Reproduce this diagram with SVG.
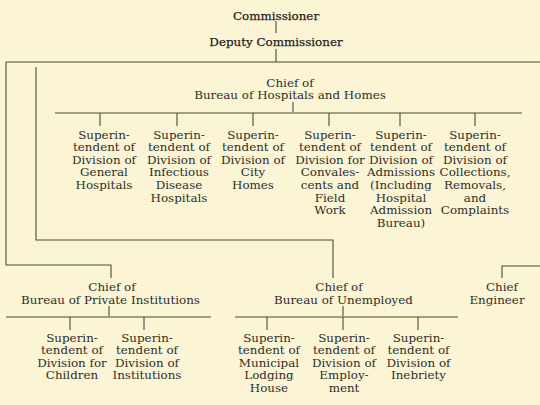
<svg xmlns="http://www.w3.org/2000/svg" width="540" height="405" viewBox="0 0 540 405">
<style>
text{font-family:"DejaVu Serif","Liberation Serif",serif;font-size:11.9px;fill:#2f2d29;text-anchor:middle}
.c line{stroke:#4a4840;stroke-width:1.1;fill:none}
.c polyline{stroke:#4a4840;stroke-width:1.1;fill:none}
.b{fill:#1f1d1a;stroke:#1f1d1a;stroke-width:0.25}
</style>
<rect width="540" height="405" fill="#fbf5d5"/>
<g class="c" id="connectors">
<line x1="276" y1="21" x2="276" y2="33"/>
<line x1="276" y1="49" x2="276" y2="62"/>
<line x1="6" y1="62" x2="540" y2="62"/>
<polyline points="6,62 6,265 111,265 111,278"/>
<polyline points="36,67 36,240 333,240 333,278"/>
<line x1="293" y1="102" x2="293" y2="112"/>
<line x1="55" y1="113" x2="522" y2="113"/>
<line x1="100" y1="113" x2="100" y2="126"/>
<line x1="177" y1="113" x2="177" y2="126"/>
<line x1="253" y1="113" x2="253" y2="126"/>
<line x1="329" y1="113" x2="329" y2="126"/>
<line x1="400" y1="113" x2="400" y2="126"/>
<line x1="475" y1="113" x2="475" y2="126"/>
<line x1="109" y1="306" x2="109" y2="316"/>
<line x1="6" y1="317" x2="211" y2="317"/>
<line x1="70" y1="317" x2="70" y2="330"/>
<line x1="144" y1="317" x2="144" y2="330"/>
<line x1="343" y1="306" x2="343" y2="316"/>
<line x1="235" y1="317" x2="458" y2="317"/>
<line x1="267" y1="317" x2="267" y2="330"/>
<line x1="343" y1="317" x2="343" y2="330"/>
<line x1="418" y1="317" x2="418" y2="330"/>
<polyline points="540,266 502,266 502,278"/>
</g>
<g id="commissioner"><text class="b" x="276" y="19.5">Commissioner</text></g>
<g id="deputy"><text class="b" x="276" y="46">Deputy Commissioner</text></g>
<g id="chief-hospitals"><text x="290" y="86.5">Chief of</text><text x="290" y="99">Bureau of Hospitals and Homes</text></g>
<g id="div-general"><text x="104" y="138.5">Superin-</text><text x="104" y="151">tendent of</text><text x="104" y="163.7">Division of</text><text x="104" y="176.4">General</text><text x="104" y="189">Hospitals</text></g>
<g id="div-infectious"><text x="179" y="138.5">Superin-</text><text x="179" y="151">tendent of</text><text x="179" y="163.7">Division of</text><text x="179" y="176.4">Infectious</text><text x="179" y="189">Disease</text><text x="179" y="201.7">Hospitals</text></g>
<g id="div-city"><text x="253" y="138.5">Superin-</text><text x="253" y="151">tendent of</text><text x="253" y="163.7">Division of</text><text x="253" y="176.4">City</text><text x="253" y="189">Homes</text></g>
<g id="div-convalescents"><text x="330" y="138.5">Superin-</text><text x="330" y="151">tendent of</text><text x="330" y="163.7">Division for</text><text x="330" y="176.4">Convales-</text><text x="330" y="189">cents and</text><text x="330" y="201.7">Field</text><text x="330" y="214.4">Work</text></g>
<g id="div-admissions"><text x="401" y="138.5">Superin-</text><text x="401" y="151">tendent of</text><text x="401" y="163.7">Division of</text><text x="401" y="176.4">Admissions</text><text x="401" y="189">(Including</text><text x="401" y="201.7">Hospital</text><text x="401" y="214.4">Admission</text><text x="401" y="227">Bureau)</text></g>
<g id="div-collections"><text x="475" y="138.5">Superin-</text><text x="475" y="151">tendent of</text><text x="475" y="163.7">Division of</text><text x="475" y="176.4">Collections,</text><text x="475" y="189">Removals,</text><text x="475" y="201.7">and</text><text x="475" y="214.4">Complaints</text></g>
<g id="chief-private"><text x="112" y="291">Chief of</text><text x="110.5" y="303.5">Bureau of Private Institutions</text></g>
<g id="div-children"><text x="72" y="341.5">Superin-</text><text x="72" y="354">tendent of</text><text x="72" y="366.7">Division for</text><text x="72" y="379.4">Children</text></g>
<g id="div-institutions"><text x="147" y="341.5">Superin-</text><text x="147" y="354">tendent of</text><text x="147" y="366.7">Division of</text><text x="147" y="379.4">Institutions</text></g>
<g id="chief-unemployed"><text x="339" y="291">Chief of</text><text x="343.5" y="303.5">Bureau of Unemployed</text></g>
<g id="div-lodging"><text x="269" y="341.5">Superin-</text><text x="269" y="354">tendent of</text><text x="269" y="366.7">Municipal</text><text x="269" y="379.4">Lodging</text><text x="269" y="392">House</text></g>
<g id="div-employment"><text x="344" y="341.5">Superin-</text><text x="344" y="354">tendent of</text><text x="344" y="366.7">Division of</text><text x="344" y="379.4">Employ-</text><text x="344" y="392">ment</text></g>
<g id="div-inebriety"><text x="418.5" y="341.5">Superin-</text><text x="418.5" y="354">tendent of</text><text x="418.5" y="366.7">Division of</text><text x="418.5" y="379.4">Inebriety</text></g>
<g id="chief-engineer"><text x="502" y="291">Chief</text><text x="497" y="303.5">Engineer</text></g>
</svg>
